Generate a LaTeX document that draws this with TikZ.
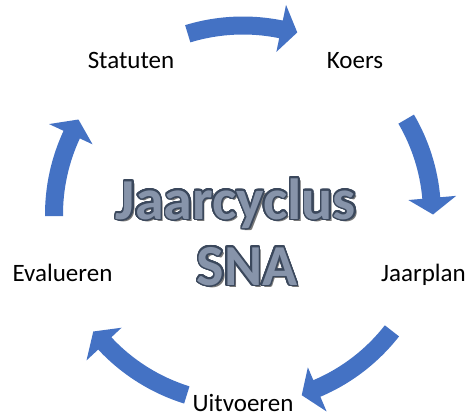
\documentclass[tikz,border=0pt]{standalone}
\usepackage{fontspec}
\setmainfont{Carlito}
\usepackage[copies]{contour}
\contourlength{1.5pt}
\contournumber{32}
\definecolor{arrowblue}{HTML}{4472C4}
\definecolor{titlefill}{HTML}{8794AA}
\definecolor{titleline}{HTML}{3B485C}
\definecolor{titleshadow}{HTML}{767676}
\tikzset{
  lbl/.style={font=\fontsize{25}{30}\selectfont, inner sep=0pt, anchor=base},
  ttl/.style={font=\fontsize{58}{60}\selectfont\bfseries, inner sep=0pt, anchor=base},
  arrowshape/.style={fill=arrowblue}}
\newcommand\cycarrow[2]{%
  \pgfmathsetmacro\headback{#2+5}%
  \fill[arrowshape] (#1:198pt) arc[start angle=#1,end angle=\headback,radius=198pt]
    -- (\headback:214pt) -- (#2:190pt) -- (\headback:166pt) -- (\headback:180pt)
    arc[start angle=\headback,end angle=#1,radius=180pt] -- cycle;}
\begin{document}
\begin{tikzpicture}[x=1pt,y=1pt]
\useasboundingbox (0,0) rectangle (476,416);
\coordinate (C) at (243,201.5);
% labels
\node[lbl] (statuten) at (131,347.5) {Statuten};
\node[lbl] (koers) at (355,347.5) {Koers};
\node[lbl] (jaarplan) at (423.5,134.5) {Jaarplan};
\node[lbl] (uitvoeren) at (243,4.5) {Uitvoeren};
\node[lbl] (evalueren) at (62.5,134.5) {Evalueren};
% arrows
\begin{scope}[shift={(C)}]
  \cycarrow{107}{73.4}
  \cycarrow{30.3}{0}
  \cycarrow{-38}{-72}
  \cycarrow{-107.3}{-142}
  \cycarrow{180.5}{150}
\end{scope}
% title
\node[ttl, text=titleshadow] at (238.5,194.5) {Jaarcyclus};
\node[ttl, text=titleshadow] at (249.5,128.5) {SNA};
\node[ttl] (title1) at (236,197) {\color{titlefill}\contour{titleline}{Jaarcyclus}};
\node[ttl] (title2) at (247,131) {\color{titlefill}\contour{titleline}{SNA}};
\end{tikzpicture}
\end{document}
